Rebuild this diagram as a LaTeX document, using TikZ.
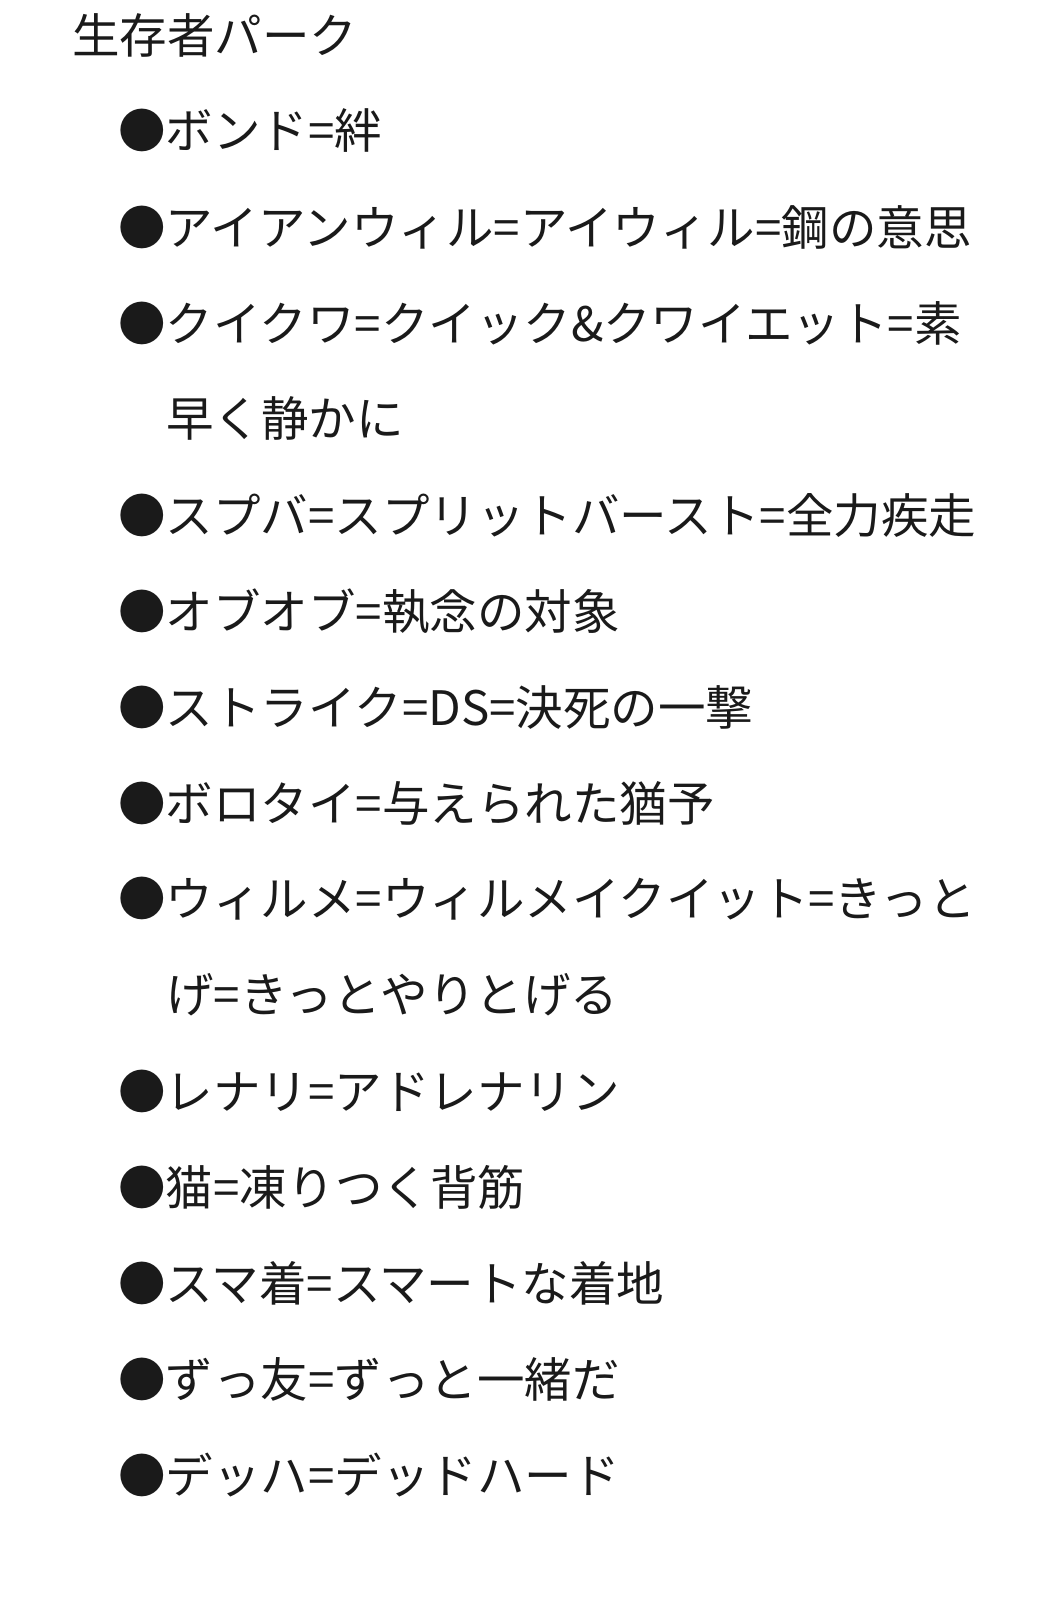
\documentclass[tikz,border=0pt]{standalone}
\usepackage{fontspec}
\setmainfont{Noto Sans CJK JP}
\definecolor{tx}{HTML}{1A1A1A}
\begin{document}
\begin{tikzpicture}[x=1pt,y=-1pt,
  ln/.style={anchor=west,inner sep=0pt,text=tx,font=\fontsize{47.5}{52}\selectfont}]
\useasboundingbox[fill=white] (0,0) rectangle (1038,1598);
\node[ln] (t) at (72,35) {生存者パーク};
\node[ln] (a1) at (118,130) {●ボンド=絆};
\node[ln] (a2) at (118,227) {●アイアンウィル=アイウィル=鋼の意思};
\node[ln] (a3) at (118,323) {●クイクワ=クイック\&クワイエット=素};
\node[ln] (a3b) at (166,418) {早く静かに};
\node[ln] (a4) at (118,515) {●スプバ=スプリットバースト=全力疾走};
\node[ln] (a5) at (118,611) {●オブオブ=執念の対象};
\node[ln] (a6) at (118,707) {●ストライク=DS=決死の一撃};
\node[ln] (a7) at (118,803) {●ボロタイ=与えられた猶予};
\node[ln] (a8) at (118,899) {●ウィルメ=ウィルメイクイット=きっと};
\node[ln] (a8b) at (166,995) {げ=きっとやりとげる};
\node[ln] (a9) at (118,1091) {●レナリ=アドレナリン};
\node[ln] (a10) at (118,1187) {●猫=凍りつく背筋};
\node[ln] (a11) at (118,1283) {●スマ着=スマートな着地};
\node[ln] (a12) at (118,1379) {●ずっ友=ずっと一緒だ};
\node[ln] (a13) at (118,1475) {●デッハ=デッドハード};
\end{tikzpicture}
\end{document}
